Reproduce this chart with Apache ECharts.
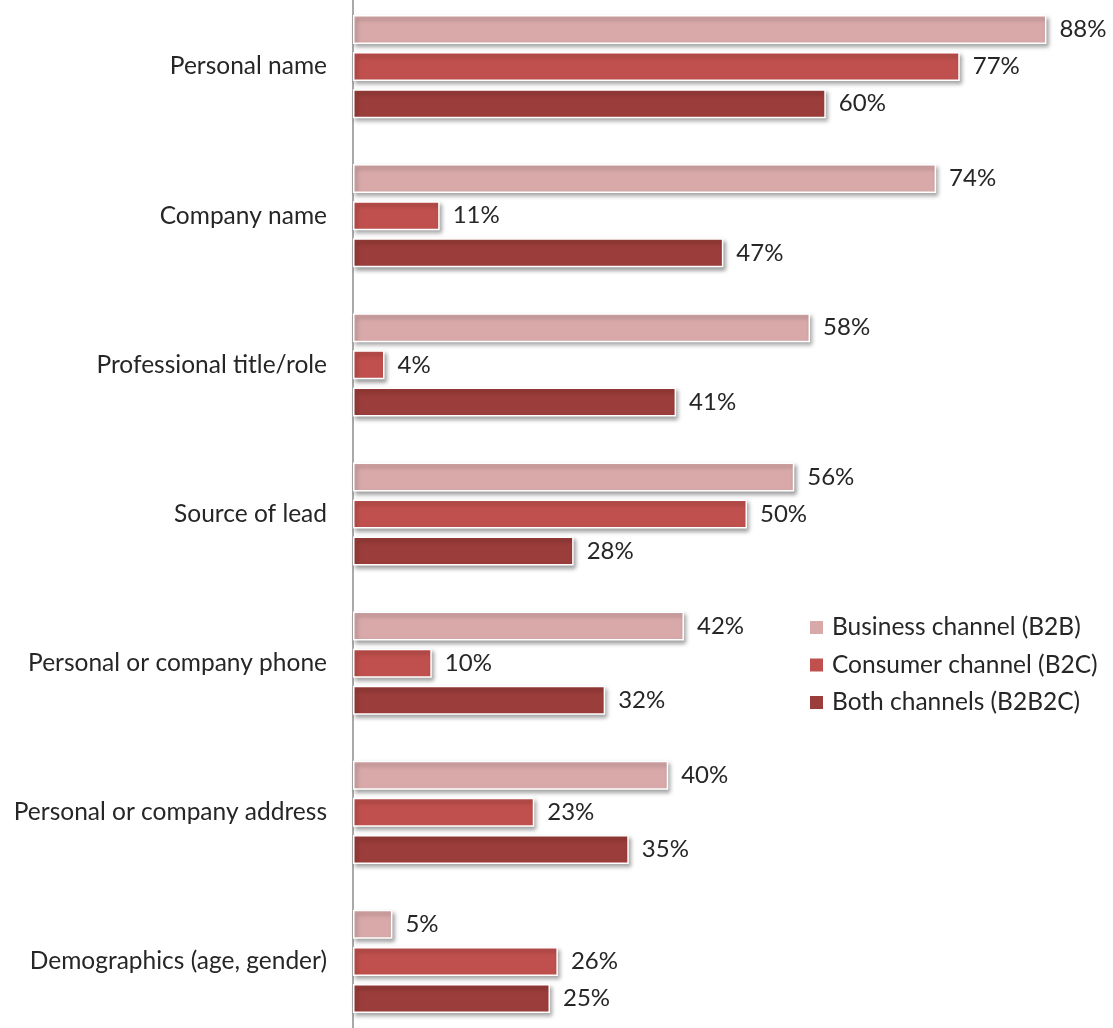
<!DOCTYPE html>
<html>
<head>
<meta charset="utf-8">
<script src="https://cdn.jsdelivr.net/npm/echarts@6/dist/echarts.min.js"></script>
<style>
  html, body { margin: 0; padding: 0; background: #fff; overflow: hidden; }
  body { width: 1113px; height: 1028px; position: relative; }
  /* the plot runs slightly past the top and bottom edges of the page */
  #chart { position: absolute; left: 0; top: -8px; width: 1113px; height: 1044px; }
</style>
</head>
<body>
<div id="chart"></div>
<script>
// Lead information collected, by sales channel (% of respondents)
const categories = [
  'Personal name',
  'Company name',
  'Professional title/role',
  'Source of lead',
  'Personal or company phone',
  'Personal or company address',
  'Demographics (age, gender)'
];
const seriesNames = ['Business channel (B2B)', 'Consumer channel (B2C)', 'Both channels (B2B2C)'];
const b2b   = [88, 74, 58, 56, 42, 40, 5];
const b2c   = [77, 11, 4, 50, 10, 23, 26];
const b2b2c = [60, 47, 41, 28, 32, 35, 25];
const colors = ['#D9A9A9', '#C0504D', '#9B3D3B'];

const FONT = 'Lato, "Open Sans", sans-serif';
const TEXT = '#262626';

function makeSeries(name, data, color) {
  return {
    name: name,
    type: 'bar',
    data: data,
    barWidth: 29,
    barGap: '28%',
    itemStyle: {
      color: color,
      borderColor: '#ffffff',
      borderWidth: 1.5,
      shadowColor: 'rgba(0,0,0,0.35)',
      shadowBlur: 4,
      shadowOffsetX: 2,
      shadowOffsetY: 3
    },
    label: {
      show: true,
      position: 'right',
      distance: 13,
      formatter: '{c}%',
      fontFamily: FONT,
      fontSize: 24,
      color: TEXT
    },
    emphasis: { disabled: true }
  };
}

const chart = echarts.init(document.getElementById('chart'), null, { renderer: 'canvas' });
chart.setOption({
  animation: false,
  backgroundColor: '#ffffff',
  grid: { left: 353, width: 748.6, top: 0, bottom: 0, containLabel: false },
  legend: {
    orient: 'vertical',
    left: 803,
    top: 618,
    itemWidth: 15,
    itemHeight: 15,
    itemGap: 12.5,
    icon: 'rect',
    data: seriesNames,
    textStyle: { fontFamily: FONT, fontSize: 24.5, color: TEXT, padding: [0, 0, 0, 3] }
  },
  xAxis: {
    type: 'value',
    min: 0,
    max: 95,
    show: false
  },
  yAxis: {
    type: 'category',
    data: categories,
    inverse: true,
    axisLine: { show: true, lineStyle: { color: '#8c8c8c', width: 1.5 } },
    axisTick: { show: false },
    axisLabel: {
      margin: 26,
      fontFamily: FONT,
      fontSize: 24.5,
      color: TEXT
    }
  },
  series: [
    makeSeries(seriesNames[0], b2b, colors[0]),
    makeSeries(seriesNames[1], b2c, colors[1]),
    makeSeries(seriesNames[2], b2b2c, colors[2])
  ]
});
</script>
</body>
</html>
